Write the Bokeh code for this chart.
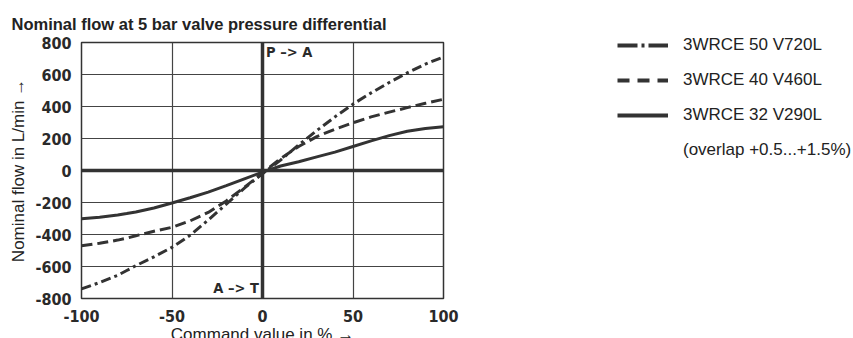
from bokeh.plotting import figure
from bokeh.models import Legend, LegendItem, Label, Span, FixedTicker, Title
from bokeh.embed import file_html
from bokeh.resources import INLINE

# ---- data ----
command = [-100, -90, -80, -75, -70, -60, -50, -40, -30, -20, -10, 0,
           10, 20, 30, 40, 50, 60, 70, 80, 90, 100]
flow_v720 = [-740, -700, -655, -625, -595, -540, -480, -405, -310, -210, -110, -20,
             65, 160, 250, 335, 415, 485, 550, 610, 665, 710]
flow_v460 = [-471, -455, -435, -423, -408, -380, -355, -315, -262, -190, -105, -16,
             75, 150, 212, 258, 298, 335, 365, 393, 420, 445]
flow_v290 = [-302, -292, -278, -269, -259, -234, -203, -170, -135, -95, -52, -10,
             28, 55, 85, 115, 150, 185, 218, 245, 263, 274]

series_names = ["3WRCE 50 V720L", "3WRCE 40 V460L", "3WRCE 32 V290L"]
note_text = "(overlap +0.5...+1.5%)"
title_text = "Nominal flow at 5 bar valve pressure differential"
x_label = "Command value in % \u2192"
y_label = "Nominal flow in L/min \u2192"
x_ticks = [-100, -50, 0, 50, 100]
y_ticks = [-800, -600, -400, -200, 0, 200, 400, 600, 800]

INK = "#333333"
COND = "DejaVu Sans Condensed, Liberation Sans"
SANS = "Liberation Sans"

p = figure(frame_width=362, frame_height=256, x_range=(-100, 100), y_range=(-800, 800),
           output_backend="svg", toolbar_location=None,
           min_border_left=81, min_border_right=410,
           min_border_top=42, min_border_bottom=38)
p.background_fill_color = "white"
p.border_fill_color = "white"
p.outline_line_color = INK
p.outline_line_width = 1.5

t = Title(text=title_text, align="left", offset=-70,
          text_font=SANS, text_font_size="16.5px", text_font_style="bold",
          text_color="#222222", standoff=20)
p.add_layout(t, "above")

for ax in (p.xaxis[0], p.yaxis[0]):
    ax.axis_line_color = None
    ax.major_tick_line_color = None
    ax.minor_tick_line_color = None
    ax.major_label_text_font = COND
    ax.major_label_text_font_style = "bold"
    ax.major_label_text_font_size = "16px"
    ax.major_label_text_color = "#2a2a2a"
    ax.axis_label_text_font = SANS
    ax.axis_label_text_font_style = "normal"
    ax.axis_label_text_font_size = "17px"
    ax.axis_label_text_color = "#222222"
p.xaxis.ticker = FixedTicker(ticks=x_ticks)
p.yaxis.ticker = FixedTicker(ticks=y_ticks)
p.xaxis.major_label_overrides = {v: str(v) for v in x_ticks}
p.yaxis.major_label_overrides = {v: str(v) for v in y_ticks}
p.xaxis.axis_label = x_label
p.yaxis.axis_label = y_label
p.xaxis.major_label_standoff = 5
p.yaxis.major_label_standoff = 4
p.xaxis.axis_label_standoff = 0
p.yaxis.axis_label_standoff = 4

p.xgrid.ticker = FixedTicker(ticks=x_ticks)
p.ygrid.ticker = FixedTicker(ticks=y_ticks)
for g in (p.xgrid[0], p.ygrid[0]):
    g.grid_line_color = "#444444"
    g.grid_line_width = 1.2
    g.grid_line_alpha = 1.0

p.add_layout(Span(location=0, dimension="height", line_color=INK, line_width=3.5))
p.add_layout(Span(location=0, dimension="width", line_color=INK, line_width=3.5))

p.line(command, flow_v720, line_color=INK, line_width=3, line_dash="10 4 3 4")
p.line(command, flow_v460, line_color=INK, line_width=3, line_dash="11 5")
p.line(command, flow_v290, line_color=INK, line_width=3)

p.add_layout(Label(x=2, y=790, text="P \u2013> A", text_font=COND,
                   text_font_style="bold", text_font_size="14.5px",
                   text_color="#2a2a2a", text_baseline="top", text_align="left"))
p.add_layout(Label(x=-2, y=-785, text="A \u2013> T", text_font=COND,
                   text_font_style="bold", text_font_size="14.5px",
                   text_color="#2a2a2a", text_baseline="bottom", text_align="right"))

# key glyphs: single-point lines draw nothing in the plot, only in the key
k1 = p.line(command[:1], flow_v720[:1], line_color=INK, line_width=4, line_dash="20 4 3 4")
k2 = p.line(command[:1], flow_v460[:1], line_color=INK, line_width=4, line_dash="12 8")
k3 = p.line(command[:1], flow_v290[:1], line_color=INK, line_width=4)
k4 = p.line(command[:1], flow_v290[:1], line_color=INK, line_width=4, line_alpha=0)

legend = Legend(items=[LegendItem(label=series_names[0], renderers=[k1]),
                       LegendItem(label=series_names[1], renderers=[k2]),
                       LegendItem(label=series_names[2], renderers=[k3]),
                       LegendItem(label=note_text, renderers=[k4])],
                location=(174, 138), orientation="vertical",
                glyph_width=51, glyph_height=20, label_height=20,
                label_standoff=15, spacing=15, padding=0, margin=0,
                border_line_color=None, background_fill_alpha=0,
                label_text_font=SANS, label_text_font_size="17px",
                label_text_color="#222222")
p.add_layout(legend, "right")

open("out.html", "w").write(file_html(p, INLINE))
